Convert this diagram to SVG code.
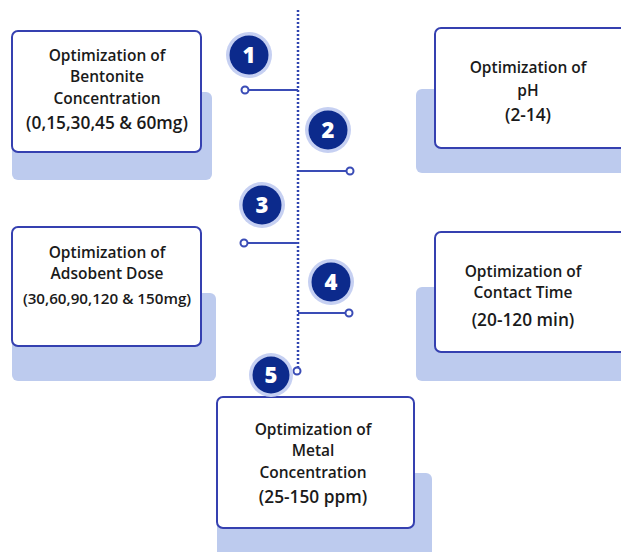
<svg xmlns="http://www.w3.org/2000/svg" width="621" height="552" viewBox="0 0 621 552">
<style>
.sh{fill:#bdcbee}
.bx{fill:#fff;stroke:#3540b0;stroke-width:2}
.t{font-family:"Open Sans",sans-serif;font-weight:600;font-size:15.5px;fill:#1a1a1a;text-anchor:middle}
.tl{font-size:17.3px}
.tm{font-size:15.2px}
.halo{fill:#c6d0f2}
.dk{fill:#0c2a8c}
.num{font-family:"Open Sans",sans-serif;font-weight:800;font-size:22px;fill:#fff;text-anchor:middle}
.ln{stroke:#3a4cb6;stroke-width:2;fill:none}
.end{fill:#fff;stroke:#3a4cb6;stroke-width:2}
.dot{stroke:#2f44b0;stroke-width:2.5;stroke-dasharray:2 2;fill:none}
</style>
<rect width="621" height="552" fill="#fff"/>
<g id="connectors">
<line class="dot" x1="298" y1="10" x2="298" y2="367"/>
<line class="ln" x1="245" y1="90" x2="298" y2="90"/>
<line class="ln" x1="298" y1="171" x2="350" y2="171"/>
<line class="ln" x1="244" y1="243" x2="298" y2="243"/>
<line class="ln" x1="298" y1="313" x2="349" y2="313"/>
<circle class="end" cx="245" cy="90" r="3.5"/>
<circle class="end" cx="350" cy="171" r="3.5"/>
<circle class="end" cx="244" cy="243" r="3.5"/>
<circle class="end" cx="349" cy="313" r="3.5"/>
<circle class="end" cx="297" cy="371" r="3.5"/>
</g>
<g id="node1">
<rect class="sh" x="12" y="92" width="200" height="88" rx="6"/>
<rect class="bx" x="12" y="31" width="189" height="121" rx="6"/>
<text class="t" x="107" y="61">Optimization of</text>
<text class="t" x="107" y="82">Bentonite</text>
<text class="t" x="107" y="104">Concentration</text>
<text class="t tl" x="107" y="129">(0,15,30,45 &amp; 60mg)</text>
</g>
<g id="node2">
<rect class="sh" x="416" y="89" width="215" height="84" rx="6"/>
<rect class="bx" x="435" y="28" width="195" height="120" rx="6"/>
<text class="t" x="528" y="73">Optimization of</text>
<text class="t" x="528" y="96">pH</text>
<text class="t tl" x="528" y="121">(2-14)</text>
</g>
<g id="node3">
<rect class="sh" x="12" y="293" width="204" height="88" rx="6"/>
<rect class="bx" x="12" y="227" width="189" height="119" rx="6"/>
<text class="t" x="107" y="258">Optimization of</text>
<text class="t" x="107" y="279">Adsobent Dose</text>
<text class="t tm" x="107" y="304">(30,60,90,120 &amp; 150mg)</text>
</g>
<g id="node4">
<rect class="sh" x="416" y="287" width="215" height="94" rx="6"/>
<rect class="bx" x="435" y="232" width="195" height="120" rx="6"/>
<text class="t" x="523" y="277">Optimization of</text>
<text class="t" x="523" y="298">Contact Time</text>
<text class="t tl" x="523" y="326">(20-120 min)</text>
</g>
<g id="node5">
<rect class="sh" x="217" y="473" width="215" height="90" rx="6"/>
<rect class="bx" x="217" y="397" width="197" height="131" rx="6"/>
<text class="t" x="313" y="435">Optimization of</text>
<text class="t" x="313" y="456">Metal</text>
<text class="t" x="313" y="478">Concentration</text>
<text class="t tl" x="313" y="503">(25-150 ppm)</text>
</g>
<g id="step1"><circle class="halo" cx="249" cy="55" r="23"/><circle class="dk" cx="249" cy="55" r="19.5"/><text class="num" x="249" y="63">1</text></g>
<g id="step2"><circle class="halo" cx="328" cy="130" r="23"/><circle class="dk" cx="328" cy="130" r="19.5"/><text class="num" x="328" y="138">2</text></g>
<g id="step3"><circle class="halo" cx="262" cy="205" r="23"/><circle class="dk" cx="262" cy="205" r="19.5"/><text class="num" x="262" y="213">3</text></g>
<g id="step4"><circle class="halo" cx="331" cy="282" r="23"/><circle class="dk" cx="331" cy="282" r="19.5"/><text class="num" x="331" y="290">4</text></g>
<g id="step5"><circle class="halo" cx="271" cy="375" r="22"/><circle class="dk" cx="271" cy="375" r="18.5"/><text class="num" x="271" y="383">5</text></g>
</svg>
